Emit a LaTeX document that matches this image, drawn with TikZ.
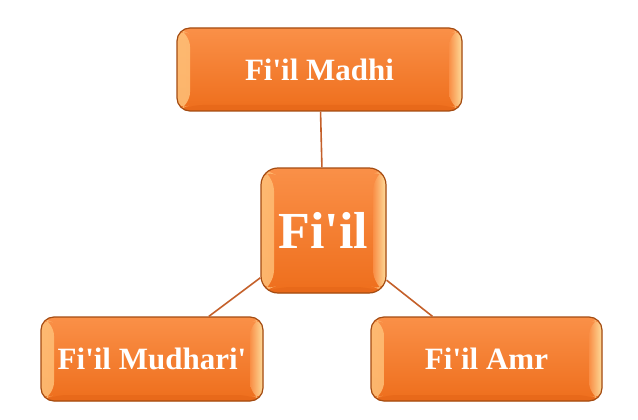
\documentclass[tikz,border=0pt]{standalone}
\usepackage{fontspec}
\setmainfont{Liberation Serif}[Ligatures=TeXOff]
\usepackage{tikz}

\definecolor{boxtop}{HTML}{FA9048}
\definecolor{boxbot}{HTML}{EE6E1C}
\definecolor{boxedge}{HTML}{A44C12}
\definecolor{lightleft}{HTML}{FFC27A}
\definecolor{lightright}{HTML}{FFE6A6}
\definecolor{darkband}{HTML}{E8691A}
\definecolor{linkcol}{HTML}{C4602A}

\begin{document}
\begin{tikzpicture}[x=1pt, y=-1pt,
  bevelbox/.style={rectangle, rounded corners=13pt, draw=boxedge, line width=1.2pt,
    top color=boxtop, bottom color=boxbot, text=white, inner sep=0pt,
    font=\bfseries\fontsize{31}{31}\selectfont,
    path picture={
      \shade[left color=lightleft, right color=boxtop, opacity=.85] (path picture bounding box.north west)
        -- ([shift={(13pt,-6pt)}]path picture bounding box.north west)
        -- ([shift={(13pt,6pt)}]path picture bounding box.south west)
        -- (path picture bounding box.south west) -- cycle;
      \shade[left color=boxtop, right color=lightright, opacity=.9] (path picture bounding box.north east)
        -- ([shift={(-13pt,-6pt)}]path picture bounding box.north east)
        -- ([shift={(-13pt,6pt)}]path picture bounding box.south east)
        -- (path picture bounding box.south east) -- cycle;
      \fill[darkband] (path picture bounding box.south west)
        -- ([shift={(13pt,6pt)}]path picture bounding box.south west)
        -- ([shift={(-13pt,6pt)}]path picture bounding box.south east)
        -- (path picture bounding box.south east) -- cycle;
    }},
  link/.style={draw=linkcol, line width=1.6pt}]
  \useasboundingbox (0,0) rectangle (638,420);

  \node[bevelbox, minimum width=285pt, minimum height=83pt] (madhi) at (319.5,69.5) {Fi'il Madhi};
  \node[bevelbox, rounded corners=17pt, minimum width=125pt, minimum height=125pt,
        font=\bfseries\fontsize{52}{52}\selectfont] (fiil) at (323.5,230.5) {Fi'il};
  \node[bevelbox, minimum width=222pt, minimum height=84pt] (mudhari) at (152,359) {Fi'il Mudhari'};
  \node[bevelbox, minimum width=231pt, minimum height=84pt] (amr) at (486.5,359) {Fi'il Amr};

  \path[link]
  (fiil) edge (madhi)
         edge (mudhari)
         edge (amr)
  ;
\end{tikzpicture}
\end{document}
